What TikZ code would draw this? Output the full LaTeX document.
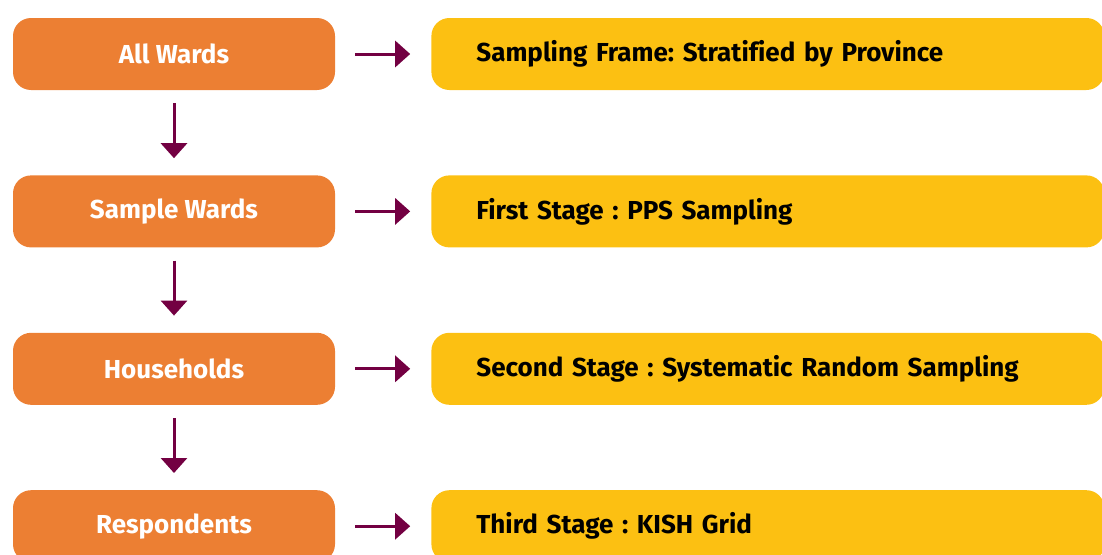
\documentclass[tikz,border=0pt]{standalone}
\usepackage{fontspec}
\setmainfont[Ligatures=NoCommon]{Fira Sans}
\frenchspacing
\usepackage{tikz}
\usetikzlibrary{positioning, arrows.meta}
\definecolor{stageorange}{HTML}{EC7F33}
\definecolor{stageyellow}{HTML}{FCC012}
\definecolor{flowink}{HTML}{730042}

\begin{document}
\begin{tikzpicture}[x=1pt, y=-1pt, font=\fontsize{26}{30}\selectfont\bfseries,
  unit/.style={rectangle, rounded corners=18pt, fill=stageorange, text=white,
               minimum width=322pt, minimum height=72pt, inner sep=0pt},
  stage/.style={rectangle, rounded corners=18pt, fill=stageyellow, text=black,
                minimum width=673pt, minimum height=72pt, inner xsep=45pt,
                inner ysep=0pt, text width=583pt, align=left},
  flow/.style={flowink, line width=3pt, -{Triangle[length=15pt, width=26pt]}}
]
  \useasboundingbox (0,0) rectangle (1102,554);
  \clip (0,0) rectangle (1102,554);

  % sampling units
  \node[unit] (ward) at (174,54) {All Wards};
  \node[unit, below=85pt of ward] (sample) {Sample Wards};
  \node[unit, below=85pt of sample] (house) {Households};
  \node[unit, below=85pt of house] (resp) {Respondents};

  % sampling stages
  \node[stage, right=96pt of ward] (frame) {Sampling Frame: Stratified by Province};
  \node[stage, right=96pt of sample] (first) {First Stage : PPS Sampling};
  \node[stage, right=96pt of house] (second) {Second Stage : Systematic Random Sampling};
  \node[stage, right=96pt of resp] (third) {Third Stage : KISH Grid};

  \draw[flow, shorten <=13pt, shorten >=17pt] (ward) -- (sample);
  \draw[flow, shorten <=13pt, shorten >=17pt] (sample) -- (house);
  \draw[flow, shorten <=13pt, shorten >=17pt] (house) -- (resp);

  \foreach \a/\b in {ward/frame, sample/first, house/second, resp/third}
    \draw[flow, shorten <=20pt, shorten >=21pt] (\a) -- (\b);
\end{tikzpicture}
\end{document}
